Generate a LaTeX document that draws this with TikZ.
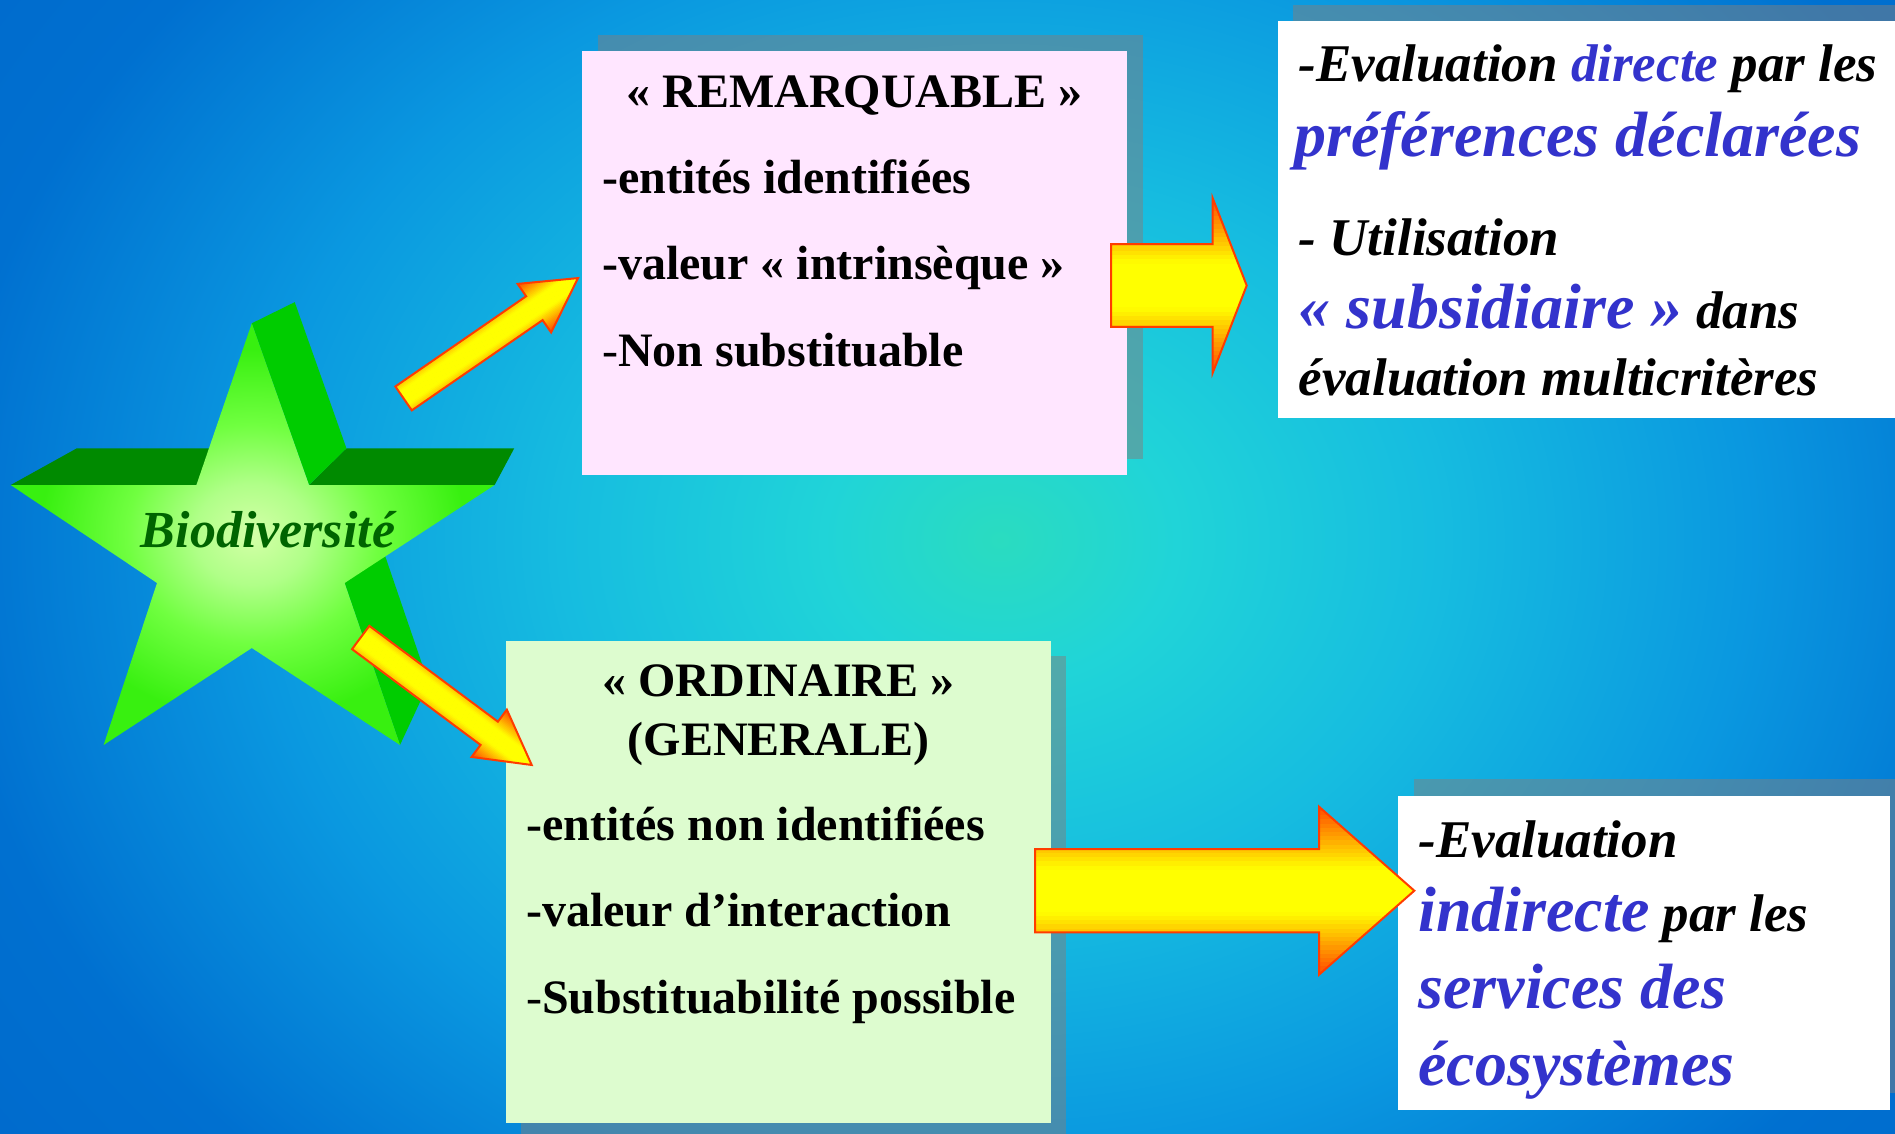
\documentclass[tikz,border=0pt]{standalone}
\usepackage{fontspec}
\setmainfont{Liberation Serif}
\usetikzlibrary{calc}

\definecolor{bg0}{HTML}{2ADCC0}
\definecolor{bg1}{HTML}{20D4D8}
\definecolor{bg2}{HTML}{16BCE0}
\definecolor{bg3}{HTML}{0A98E0}
\definecolor{bg4}{HTML}{0070D0}
\definecolor{bg5}{HTML}{0050BC}
\definecolor{stA}{HTML}{D4FFA8}
\definecolor{stB}{HTML}{B0FF88}
\definecolor{stC}{HTML}{70FF40}
\definecolor{stD}{HTML}{38F010}
\definecolor{starTop}{HTML}{008A00}
\definecolor{starSide}{HTML}{00CC00}
\definecolor{bioGreen}{HTML}{006400}
\definecolor{pinkFill}{HTML}{FFE6FF}
\definecolor{greenFill}{HTML}{DDFCCF}
\definecolor{blueT}{HTML}{3333CC}
\definecolor{arrY}{HTML}{FFFF00}
\definecolor{arrO}{HTML}{FF4A00}
\definecolor{arrLine}{HTML}{FF3C00}

\pgfdeclareradialshading{bgglow}{\pgfpoint{0bp}{0bp}}{%
 color(0bp)=(bg0); color(4bp)=(bg1); color(10bp)=(bg2); color(17bp)=(bg3); color(24bp)=(bg4); color(50bp)=(bg5)}
\pgfdeclareradialshading{starglow}{\pgfpoint{0bp}{0bp}}{%
 color(0bp)=(stA); color(6bp)=(stB); color(13bp)=(stC); color(22bp)=(stD); color(50bp)=(stD)}

\newcommand{\szBox}{\fontsize{48}{56}\selectfont\bfseries}
\newcommand{\szEval}{\fontsize{53}{62}\selectfont\bfseries\itshape}
\newcommand{\szBig}{\fontsize{64}{74}\selectfont\bfseries\itshape}
\newcommand{\szBio}{\fontsize{52}{60}\selectfont\bfseries\itshape}

\newcommand{\myBlockArrow}[4]{%
  \begin{scope}
    \clip (0,-#2) -- (#1-#4,-#2) -- (#1-#4,-#3) -- (#1,0) -- (#1-#4,#3) -- (#1-#4,#2) -- (0,#2) -- cycle;
    \foreach \i in {0,...,39}{%
      \pgfmathsetmacro{\myY}{-#3+\i*#3/20}%
      \pgfmathsetmacro{\myT}{abs(\myY+#3/40)/#3}%
      \pgfmathtruncatemacro{\myP}{min(100,max(0,100*(1-\myT)/0.74))}%
      \fill[arrY!\myP!arrO] (-3,\myY) rectangle (#1+3,\myY+#3/20+0.6);
    }
  \end{scope}
  \draw[arrline] (0,-#2) -- (#1-#4,-#2) -- (#1-#4,-#3) -- (#1,0) -- (#1-#4,#3) -- (#1-#4,#2) -- (0,#2) -- cycle;
}

\begin{document}
\begin{tikzpicture}[x=1pt,y=-1pt,
  plate/.style={draw=none, inner sep=0pt, anchor=north west},
  shadowfill/.style={fill=black!50, fill opacity=0.5},
  txt/.style={inner sep=0pt, anchor=base west, text=black},
  ttl/.style={inner sep=0pt, anchor=base, text=black},
  topface/.style={fill=starTop},
  sideface/.style={fill=starSide},
  arrline/.style={draw=arrLine, line width=2pt, line join=miter}]

\useasboundingbox (0,0) rectangle (1895,1133);
\begin{scope}
  \clip (0,0) rectangle (1895,1133);
  \shade[shading=bgglow] (-100,-360) rectangle (2100,1440);
\end{scope}

% shadows
\node[plate, shadowfill, minimum width=545, minimum height=424] (remS) at (597.5,34.3) {};
\node[plate, shadowfill, minimum width=545, minimum height=481.7] (ordS) at (521,656) {};
\node[plate, shadowfill, minimum width=640, minimum height=396.7] (dirS) at (1293,5) {};
\node[plate, shadowfill, minimum width=492, minimum height=314] (indS) at (1414,779) {};

% boxes
\node[plate, fill=pinkFill, minimum width=545, minimum height=424] (rem) at (582,51) {};
\node[plate, fill=greenFill, minimum width=545, minimum height=481.7] (ord) at (506,641) {};
\node[plate, fill=white, minimum width=640, minimum height=396.7] (dir) at (1278,21) {};
\node[plate, fill=white, minimum width=492, minimum height=314] (ind) at (1398,796) {};

% pink box text
\node[ttl, font=\szBox] (remT) at (854.5,107.3) {« REMARQUABLE »};
\node[txt, font=\szBox] (rem1) at (602,193.3) {-entités identifiées};
\node[txt, font=\szBox] (rem2) at (602,279.3) {-valeur « intrinsèque »};
\node[txt, font=\szBox] (rem3) at (602,366.7) {{\mdseries -}Non substituable};

% green box text
\node[ttl, font=\szBox] (ordT1) at (778.5,696.7) {« ORDINAIRE »};
\node[ttl, font=\szBox] (ordT2) at (778.5,755) {(GENERALE)};
\node[txt, font=\szBox] (ord1) at (526,840) {-entités non identifiées};
\node[txt, font=\szBox] (ord2) at (526,926.7) {-valeur d’interaction};
\node[txt, font=\szBox] (ord3) at (526,1013.3) {{\mdseries -}Substituabilité possible};

% top right text
\node[txt, font=\szEval] (dir1) at (1298.5,81.7) {-Evaluation \textcolor{blueT}{directe} par les};
\node[txt, font=\szBig, text=blueT] (dir2) at (1294,156.7) {préférences déclarées};
\node[txt, font=\szEval] (dir3) at (1298.5,255) {- Utilisation};
\node[txt, font=\szEval] (dir4) at (1298.5,328.3) {{\szBig\color{blueT}« subsidiaire »} dans};
\node[txt, font=\szEval] (dir5) at (1298.5,395) {évaluation multicritères};

% bottom right text
\node[txt, font=\szEval] (ind1) at (1418.3,857.3) {-Evaluation};
\node[txt, font=\szEval] (ind2) at (1418.3,931.7) {{\szBig\color{blueT}indirecte} par les};
\node[txt, font=\szBig, text=blueT] (ind3) at (1418.3,1008.3) {services des};
\node[txt, font=\szBig, text=blueT] (ind4) at (1418.3,1085) {écosystèmes};

% star
\coordinate (V) at (699,103);
\coordinate (sT) at (251.8,323.3);
\coordinate (sURI) at (309,485);
\coordinate (sR) at (494.6,485);
\coordinate (sRI) at (344.6,583);
\coordinate (sLR) at (400,745);
\coordinate (sBI) at (251.8,648);
\coordinate (sLL) at (103.6,745);
\coordinate (sLI) at (157,583);
\coordinate (sL) at (10.7,485);
\coordinate (sULI) at (196.4,485);
\coordinate (bT) at ($(V)!0.904!(sT)$);
\coordinate (bURI) at ($(V)!0.904!(sURI)$);
\coordinate (bR) at ($(V)!0.904!(sR)$);
\coordinate (bRI) at ($(V)!0.904!(sRI)$);
\coordinate (bLR) at ($(V)!0.904!(sLR)$);
\coordinate (bL) at ($(V)!0.904!(sL)$);
\coordinate (bULI) at ($(V)!0.904!(sULI)$);

\fill[topface] (sL) -- (sULI) -- (bULI) -- (bL) -- cycle;
\fill[topface] (sURI) -- (sR) -- (bR) -- (bURI) -- cycle;
\fill[sideface] (sT) -- (sURI) -- (bURI) -- (bT) -- cycle;
\fill[sideface] (sRI) -- (sLR) -- (bLR) -- (bRI) -- cycle;
\shade[shading=starglow] (sT) -- (sURI) -- (sR) -- (sRI) -- (sLR) -- (sBI) -- (sLL) -- (sLI) -- (sL) -- (sULI) -- cycle;
\node[ttl, font=\szBio, text=bioGreen] (bio) at (268,547) {Biodiversité};

% arrows
\coordinate (a1s) at (403.6,398.4);
\coordinate (a2s) at (360.7,637.5);
\coordinate (a3s) at (1111,285.5);
\coordinate (a4s) at (1035,890.7);
\begin{scope}[shift={(a1s)}, rotate=34.6]
  \myBlockArrow{211.9}{14.5}{29.5}{53}
\end{scope}
\begin{scope}[shift={(a2s)}, rotate=-36.7]
  \myBlockArrow{213.3}{14.5}{29.5}{53}
\end{scope}
\begin{scope}[shift={(a3s)}]
  \myBlockArrow{135.7}{41.3}{87.3}{34}
\end{scope}
\begin{scope}[shift={(a4s)}]
  \myBlockArrow{379.3}{41.7}{84}{95.3}
\end{scope}
\end{tikzpicture}
\end{document}
